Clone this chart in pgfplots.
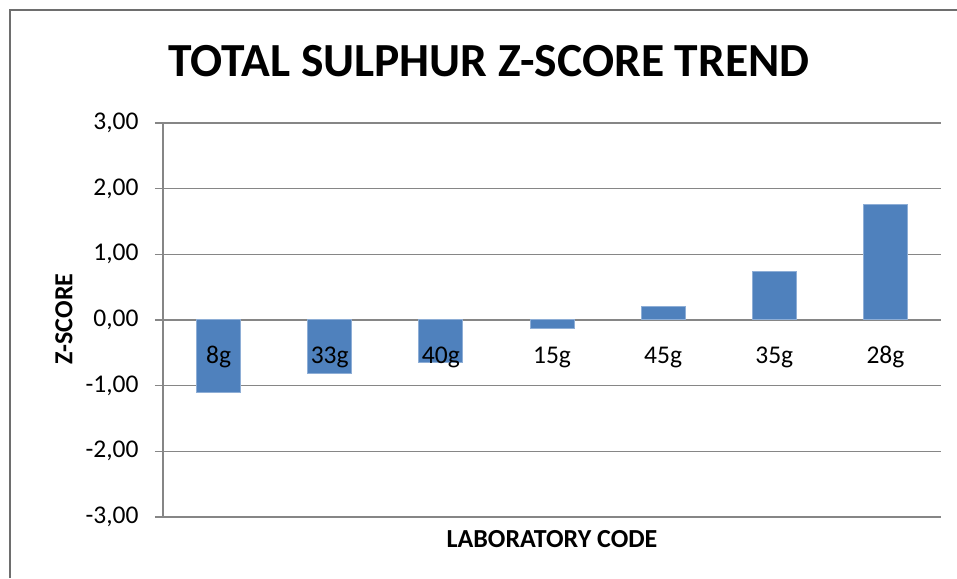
\documentclass[border=0pt]{standalone}
\usepackage{pgfplots}
\pgfplotsset{compat=1.18}
\usepackage{fontspec}
\setmainfont{Carlito}
\definecolor{barblue}{HTML}{4F81BD}
\definecolor{baredge}{HTML}{8EAED6}
\definecolor{gridgray}{HTML}{868686}
\definecolor{framegray}{HTML}{6E6E6E}
\begin{document}
\begin{tikzpicture}
\draw[framegray, line width=1.3pt] (-153pt,-61pt) -- (-153pt,507pt) -- (794pt,507pt);
\begin{axis}[
  at={(0pt,0pt)}, anchor=south west,
  scale only axis, width=778pt, height=394pt,
  xmin=-0.5, xmax=6.5, ymin=-3, ymax=3,
  axis x line*=middle, axis y line*=left,
  axis line style={gridgray, line width=1.4pt},
  xtick=\empty,
  ytick={-3,-2,-1,0,1,2,3},
  yticklabels={{-3,00},{-2,00},{-1,00},{0,00},{1,00},{2,00},{3,00}},
  tick align=outside,
  major tick length=8pt,
  major y tick style={gridgray, line width=1.4pt},
  ymajorgrids,
  major grid style={gridgray, line width=1.4pt},
  tick label style={font=\fontsize{25.5}{30}\selectfont},
  y tick label style={anchor=east, xshift=-13pt},
  clip=false,
  ybar, bar width=44pt,
  after end axis/.code={
    \foreach \i/\lab in {0/8g,1/33g,2/40g,3/15g,4/45g,5/35g,6/28g}{
      \node[anchor=base, font=\fontsize{25.5}{30}\selectfont, yshift=-43pt] at (axis cs:\i,0) {\lab};
    }
  },
]
\addplot[fill=barblue, draw=baredge, line width=1pt] coordinates {
 (0,-1.11) (1,-0.81) (2,-0.64) (3,-0.13) (4,0.20) (5,0.74) (6,1.76)
};
\end{axis}
\node[font=\fontsize{47.5}{56}\selectfont\bfseries] at (326pt,456pt) {TOTAL SULPHUR Z-SCORE TREND};
\node[font=\fontsize{26}{30}\selectfont\bfseries] at (389pt,-22pt) {LABORATORY CODE};
\node[font=\fontsize{26}{30}\selectfont\bfseries, rotate=90] at (-99pt,198pt) {Z-SCORE};
\pgfresetboundingbox
\useasboundingbox (-163pt,-61pt) rectangle (794pt,517pt);
\end{tikzpicture}
\end{document}
